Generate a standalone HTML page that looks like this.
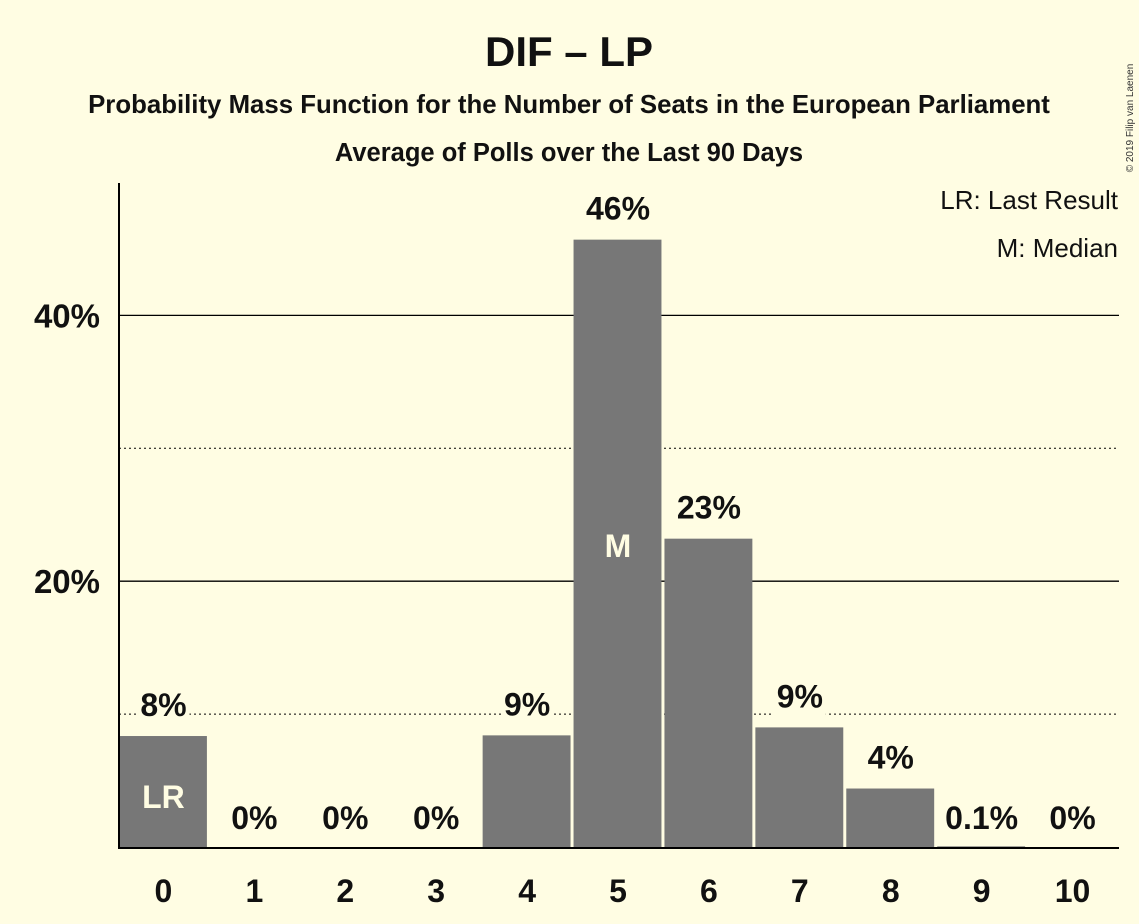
<!DOCTYPE html>
<html><head><meta charset="utf-8"><style>
html,body{margin:0;padding:0;background:#fffde3;}
svg{display:block;font-family:"Liberation Sans",sans-serif;font-weight:bold;}
</style></head><body>
<svg id="chart" width="1139" height="924" viewBox="0 0 1139 924">
<rect width="1139" height="924" fill="#fffde3"/>
<text x="569" y="66" font-size="42" text-anchor="middle" fill="#111">DIF – LP</text>
<text x="569" y="113" font-size="25.8" text-anchor="middle" fill="#111">Probability Mass Function for the Number of Seats in the European Parliament</text>
<text x="569" y="161" font-size="25.5" text-anchor="middle" fill="#111">Average of Polls over the Last 90 Days</text>
<text x="1133" y="118" font-size="10" font-weight="normal" fill="#333" transform="rotate(-90 1133 118)" text-anchor="middle">© 2019 Filip van Laenen</text>
<g id="grid"></g>
<g id="bars"></g>
<g id="labels"></g>
<line x1="119" y1="183" x2="119" y2="848" stroke="#000" stroke-width="2"/>
<line x1="118" y1="848" x2="1119" y2="848" stroke="#000" stroke-width="2"/>
<text x="1118" y="209" font-size="26" font-weight="normal" text-anchor="end" fill="#111">LR: Last Result</text>
<text x="1118" y="257" font-size="26" font-weight="normal" text-anchor="end" fill="#111">M: Median</text>
</svg>
<script>
const categories=["0","1","2","3","4","5","6","7","8","9","10"];
const values=[8.35,0,0,0,8.4,45.7,23.2,9.0,4.4,0.05,0];
const valueLabels=["8%","0%","0%","0%","9%","46%","23%","9%","4%","0.1%","0%"];
const solidTicks=[20,40];
const dottedTicks=[10,30];
const tickLabels=["20%","40%"];
const lastResultIndex=0, medianIndex=5;
const NS="http://www.w3.org/2000/svg";
const x0=119,x1=1119,yBase=847,pxPer=13.29;
const slot=(x1-x0)/categories.length;
const y=v=>yBase-v*pxPer;
const cx=i=>x0+slot*(i+0.5)-1;
function mk(tag,attrs,parent,text){const e=document.createElementNS(NS,tag);for(const k in attrs)e.setAttribute(k,attrs[k]);if(text!==undefined)e.textContent=text;parent.appendChild(e);return e;}
const grid=document.getElementById('grid'),bars=document.getElementById('bars'),labels=document.getElementById('labels');
dottedTicks.forEach(t=>{const l=mk('line',{x1:x0,x2:x1,y1:y(t),y2:y(t),stroke:'#000','stroke-width':1,'stroke-dasharray':'2,3'},grid);

});
solidTicks.forEach((t,k)=>{const l=mk('line',{x1:x0,x2:x1,y1:y(t),y2:y(t),stroke:'#000','stroke-width':1.3},grid);


const tx=mk('text',{x:100,y:y(t)+12,'font-size':33,'text-anchor':'end',fill:'#111'},grid,tickLabels[k]);

});
values.forEach((v,i)=>{
const r=mk('rect',{x:x0+slot*i,y:y(v),width:slot-3,height:yBase-y(v),fill:'#777'},bars);


const lx=cx(i),ly=(v<1?yBase-18:y(v)-20);
const bg=mk('rect',{x:lx-(valueLabels[i].length*10+6),y:ly-28,width:valueLabels[i].length*20+12,height:36,fill:'#fffde3'},labels);


const t=mk('text',{x:lx,y:ly,'font-size':32,'text-anchor':'middle',fill:'#111'},labels,valueLabels[i]);


const xt=mk('text',{x:lx,y:902,'font-size':32,'text-anchor':'middle',fill:'#111'},labels,categories[i]);


});
const lr=mk('text',{x:cx(lastResultIndex),y:808,'font-size':32,'text-anchor':'middle',fill:'#fffde3'},labels,'LR');


const md=mk('text',{x:cx(medianIndex),y:557,'font-size':32,'text-anchor':'middle',fill:'#fffde3'},labels,'M');


</script>
</body></html>
